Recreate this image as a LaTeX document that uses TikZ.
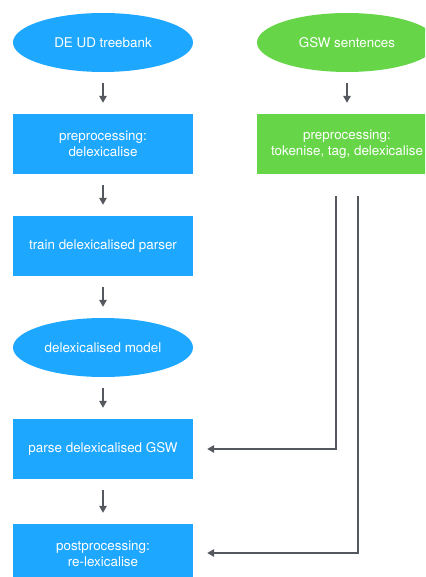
\documentclass[tikz,border=0pt]{standalone}
\usepackage{fontspec}
\setmainfont{TeX Gyre Heros}
\usetikzlibrary{shapes.geometric,arrows.meta}
\definecolor{bluefill}{RGB}{30,167,255}
\definecolor{greenfill}{RGB}{102,214,72}
\definecolor{linegray}{RGB}{85,89,95}
\tikzset{
  base/.style={text=white, inner sep=0pt, align=center, font=\fontsize{13.4}{16}\selectfont, minimum width=180pt},
  bluebox/.style={base, rectangle, fill=bluefill, minimum height=60pt},
  blueoval/.style={base, ellipse, fill=bluefill, minimum height=59pt},
  greenbox/.style={base, rectangle, fill=greenfill, minimum height=60pt},
  greenoval/.style={base, ellipse, fill=greenfill, minimum height=59pt},
  arr/.style={draw=linegray, line width=1.5pt, -{Triangle[length=7pt,width=7.5pt]}, shorten >=11pt, shorten <=11pt},
  conn/.style={draw=linegray, line width=1.5pt, -{Triangle[length=7pt,width=7.5pt]}}
}
\begin{document}
\begin{tikzpicture}[x=1pt,y=-1pt]
\clip (0,0) rectangle (425,577);
\fill[white] (0,0) rectangle (425,577);
\node[blueoval] (n1) at (103,42.5) {DE UD treebank};
\node[bluebox] (n2) at (103,144) {preprocessing:\\delexicalise};
\node[bluebox] (n3) at (103,246) {train delexicalised parser};
\node[blueoval] (n4) at (103,347.5) {delexicalised model};
\node[bluebox] (n5) at (103,449) {parse delexicalised GSW};
\node[bluebox] (n6) at (103,554) {postprocessing:\\re-lexicalise};
\node[greenoval] (g1) at (347,42.5) {GSW sentences};
\node[greenbox] (g2) at (347,144) {preprocessing:\\tokenise, tag, delexicalise};
\draw[arr] (n1.south) -- (n2.north);
\draw[arr] (n2.south) -- (n3.north);
\draw[arr] (n3.south) -- (n4.north);
\draw[arr] (n4.south) -- (n5.north);
\draw[arr] (n5.south) -- (n6.north);
\draw[arr] (g1.south) -- (g2.north);
\draw[conn] ([xshift=-11pt,yshift=-22pt]g2.south) |- ([xshift=14pt]n5.east);
\draw[conn] ([xshift=11pt,yshift=-22pt]g2.south) |- ([xshift=14pt,yshift=1pt]n6.east);
\end{tikzpicture}
\end{document}
